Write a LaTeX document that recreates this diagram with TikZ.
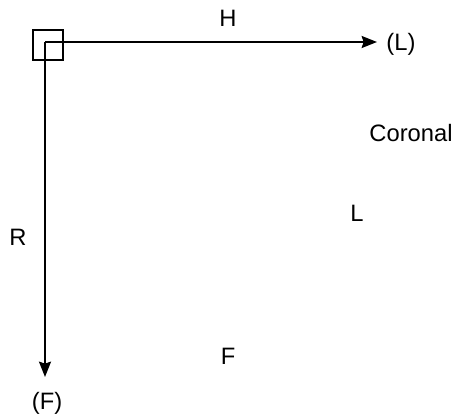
\documentclass[tikz,border=0pt]{standalone}
\usepackage{fontspec}
\setmainfont{Liberation Sans}
\usetikzlibrary{arrows.meta}
\begin{document}
\begin{tikzpicture}[x=0.75pt,y=-0.75pt,
  axis/.style={line width=1.6pt,-{Stealth[length=11.5pt,width=9pt,inset=1.5pt]}},
  lbl/.style={inner sep=0pt,font=\fontsize{17.8}{21}\selectfont}]
\useasboundingbox (0,0) rectangle (476,418);
\node[draw,line width=1.6pt,minimum size=22.5pt,inner sep=0pt] (box) at (48,45) {};
\coordinate (o) at (45,42);
\coordinate (le) at (377,42);
\coordinate (fe) at (45,377);
\draw[axis] (o) -- (le);
\draw[axis] (o) -- (fe);
\node[lbl] (h) at (228,18) {H};
\node[lbl] (pl) at (401,44) {(L)};
\node[lbl] (cor) at (411,133) {Coronal};
\node[lbl] (r) at (18,237) {R};
\node[lbl] (l) at (357,213) {L};
\node[lbl] (f) at (228,356) {F};
\node[lbl] (pf) at (47,403) {(F)};
\end{tikzpicture}
\end{document}
